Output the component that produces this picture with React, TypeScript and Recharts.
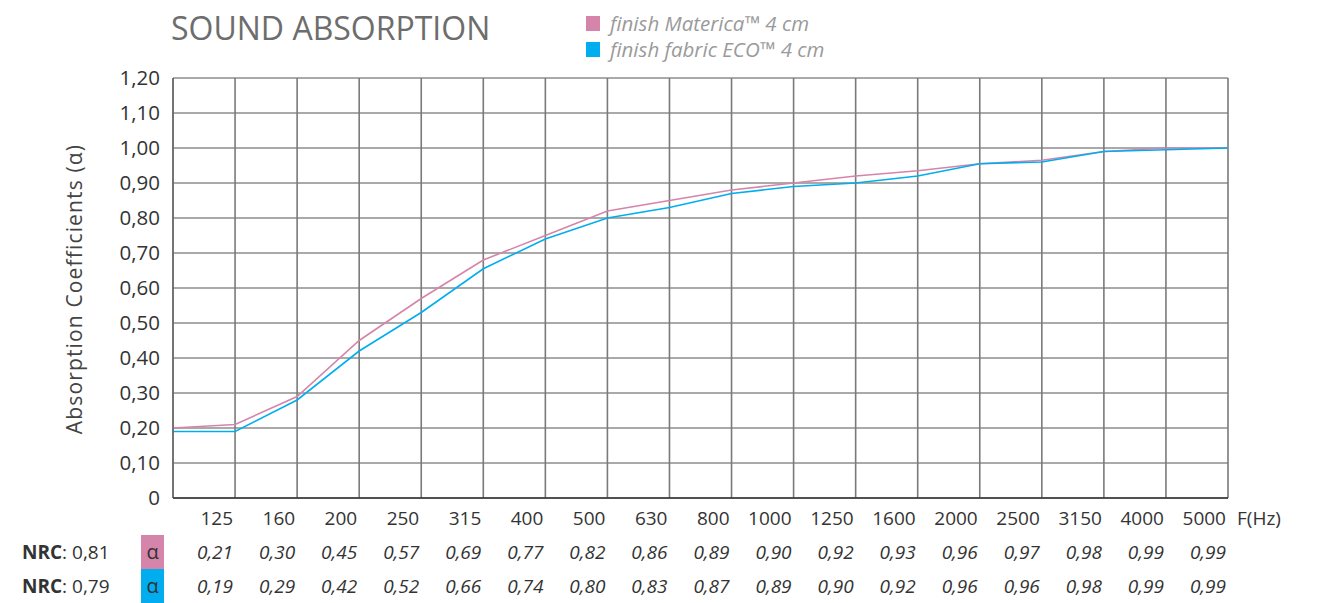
import { LineChart, Line, XAxis, YAxis, CartesianGrid } from 'recharts'

// frequency bands (Hz); first point is the unlabeled start of the curves
const frequencies = ['', '125', '160', '200', '250', '315', '400', '500', '630', '800', '1000', '1250', '1600', '2000', '2500', '3150', '4000', '5000']

// curves
const matericaCurve = [0.2, 0.21, 0.29, 0.45, 0.57, 0.68, 0.75, 0.82, 0.85, 0.88, 0.9, 0.92, 0.935, 0.955, 0.965, 0.99, 1.0, 1.0]
const ecoCurve = [0.19, 0.19, 0.28, 0.42, 0.53, 0.655, 0.74, 0.8, 0.83, 0.87, 0.89, 0.9, 0.92, 0.955, 0.96, 0.99, 0.995, 1.0]

// values printed in the table under the chart
const matericaTable = ['', '0,21', '0,30', '0,45', '0,57', '0,69', '0,77', '0,82', '0,86', '0,89', '0,90', '0,92', '0,93', '0,96', '0,97', '0,98', '0,99', '0,99']
const ecoTable = ['', '0,19', '0,29', '0,42', '0,52', '0,66', '0,74', '0,80', '0,83', '0,87', '0,89', '0,90', '0,92', '0,96', '0,96', '0,98', '0,99', '0,99']
const nrcValues = ['0,81', '0,79']

const yTicks = [0, 0.1, 0.2, 0.3, 0.4, 0.5, 0.6, 0.7, 0.8, 0.9, 1.0, 1.1, 1.2]

const PINK = '#d585aa'
const BLUE = '#00aeef'
const FONT = '"Open Sans", sans-serif'

const data = frequencies.map((f, i) => ({
  freq: f,
  materica: matericaCurve[i],
  eco: ecoCurve[i],
}))

const fmtY = (v: number) => (v === 0 ? '0' : v.toFixed(2).replace('.', ','))

const FreqTick = (props: any) => {
  const { x, y, payload } = props
  const i = payload.index ?? props.index
  const last = i === frequencies.length - 1
  return (
    <g fontFamily={FONT} fontSize={19} fill="#333">
      <text x={x - 2} y={y + 19} textAnchor="end">{payload.value}</text>
      {last && (
        <text x={x + 9} y={y + 19} textAnchor="start">F(Hz)</text>
      )}
      <text x={x - 2} y={y + 53} textAnchor="end" fontStyle="italic">{matericaTable[i]}</text>
      <text x={x - 2} y={y + 87} textAnchor="end" fontStyle="italic">{ecoTable[i]}</text>
    </g>
  )
}

export default function App() {
  return (
    <div style={{ position: 'absolute', left: 0, top: 0, width: 1328, height: 603, background: '#fff', fontFamily: FONT }}>
      <LineChart width={1328} height={603} data={data} margin={{ top: 78, right: 100, left: 113, bottom: 5 }}>
        <CartesianGrid vertical={false} stroke="#555" strokeWidth={1} />
        <CartesianGrid horizontal={false} stroke="#7a7a7a" strokeWidth={1.6} />
        <XAxis
          dataKey="freq"
          scale="point"
          interval={0}
          height={100}
          padding={{ left: 0, right: 0 }}
          tickLine={false}
          axisLine={{ stroke: '#333', strokeWidth: 1.5 }}
          tick={(p: any) => <FreqTick {...p} />}
        />
        <YAxis
          type="number"
          domain={[0, 1.2]}
          ticks={yTicks}
          interval={0}
          width={60}
          tickLine={false}
          tickMargin={7}
          axisLine={{ stroke: '#555' }}
          tickFormatter={fmtY}
          tick={{ fontSize: 20.5, fill: '#333', fontFamily: FONT }}
        />
        <Line type="linear" dataKey="materica" stroke={PINK} strokeWidth={1.6} dot={false} isAnimationActive={false} />
        <Line type="linear" dataKey="eco" stroke={BLUE} strokeWidth={1.6} dot={false} isAnimationActive={false} />
      </LineChart>

      <svg width={1328} height={603} style={{ position: 'absolute', left: 0, top: 0, pointerEvents: 'none' }} fontFamily={FONT}>
        <text x={171} y={40} fontSize={32} fill="#6d6d6d">SOUND ABSORPTION</text>

        <rect x={586} y={16} width={14} height={15} fill={PINK} />
        <text x={610} y={31} fontSize={20.5} fontStyle="italic" fill="#9a9a9a">finish Materica™ 4 cm</text>
        <rect x={586} y={42} width={14} height={15} fill={BLUE} />
        <text x={610} y={57} fontSize={20.5} fontStyle="italic" fill="#9a9a9a">finish fabric ECO™ 4 cm</text>

        <text x={82} y={289} fontSize={21} letterSpacing={1.15} fill="#444" textAnchor="middle" transform="rotate(-90 82 289)">
          Absorption Coefficients (α)
        </text>

        <text x={22} y={559} fontSize={19} fill="#333">
          <tspan fontWeight="bold">NRC</tspan>: {nrcValues[0]}
        </text>
        <text x={22} y={593} fontSize={19} fill="#333">
          <tspan fontWeight="bold">NRC</tspan>: {nrcValues[1]}
        </text>
        <rect x={141} y={535} width={23} height={34} fill={PINK} />
        <rect x={141} y={569} width={23} height={34} fill={BLUE} />
        <text x={152.5} y={559} fontSize={20} fill="#333" textAnchor="middle">α</text>
        <text x={152.5} y={593} fontSize={20} fill="#333" textAnchor="middle">α</text>
      </svg>
    </div>
  )
}
